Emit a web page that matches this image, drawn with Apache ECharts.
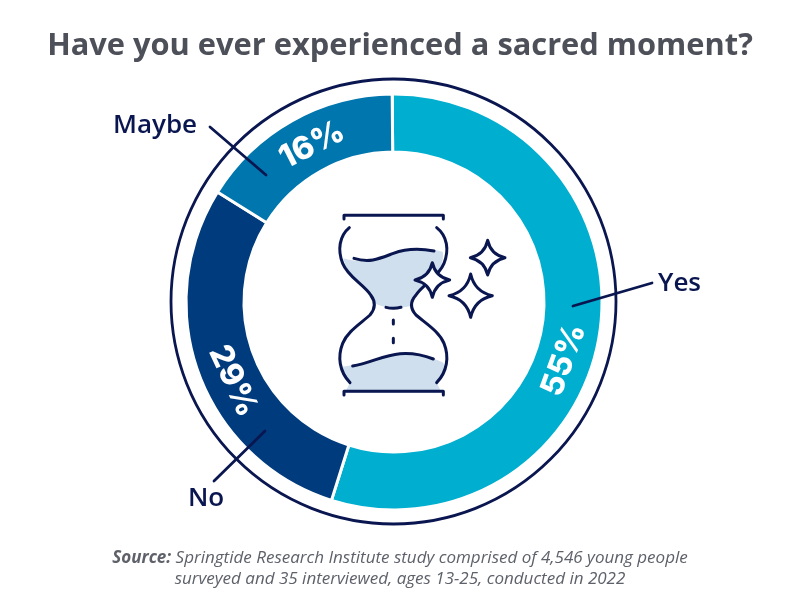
<!DOCTYPE html>
<html><head><meta charset="utf-8">
<style>html,body{margin:0;padding:0;background:#fff}#c{width:800px;height:614px}</style>
<script src="https://cdn.jsdelivr.net/npm/echarts@6/dist/echarts.min.js"></script></head>
<body><div id="c"></div>
<script>
const categories = ['Yes', 'No', 'Maybe'];
const values = [55, 29, 16];
const colors = ['#00AECF', '#003C7D', '#0076AE'];
const titleText = 'Have you ever experienced a sacred moment?';
const sourceLabel = 'Source:';
const sourceLine1 = ' Springtide Research Institute study comprised of 4,546 young people';
const sourceLine2 = 'surveyed and 35 interviewed, ages 13-25, conducted in 2022';

const navy = '#0A1650', cx = 394, cy = 302;
const fontUI = '"Open Sans", Lato, sans-serif';
const labelPlace = [
  {x: 564, y: 360, rotate: 70},
  {x: 233, y: 381, rotate: -65},
  {x: 312, y: 145, rotate: 27}
];
const leaders = [
  {from: [573, 306], to: [652, 283], text: [658, 284]},
  {from: [265, 431], to: [214, 481], text: [206, 499]},
  {from: [266, 175], to: [210, 127], text: [155, 126]}
];
function star(x, y, r) {
  const k = 0.18 * r;
  return `M${x} ${y - r}Q${x + k} ${y - k} ${x + r} ${y}Q${x + k} ${y + k} ${x} ${y + r}Q${x - k} ${y + k} ${x - r} ${y}Q${x - k} ${y - k} ${x} ${y - r}Z`;
}
const iconStroke = {stroke: navy, lineWidth: 9, fill: null, lineCap: 'round', lineJoin: 'round'};
function icon(d, style) {
  return {type: 'path', shape: {pathData: d}, style: Object.assign({}, iconStroke, style || {})};
}
const hourglass = {
  type: 'group', x: 320, y: 200, scaleX: 1 / 3, scaleY: 1 / 3,
  children: [
    icon('M70 175C120 190 170 182 220 160C260 145 320 140 368 155C372 175 365 195 355 215C335 245 300 265 285 290C278 300 274 310 272 318C240 326 200 326 168 312C160 295 150 280 135 265C105 235 78 215 70 175Z', {fill: '#CFDFEE', stroke: null}),
    icon('M68 500C130 495 180 465 240 460C280 458 320 465 370 488C380 515 372 535 350 548L365 578L75 578L90 548C72 530 65 515 68 500Z', {fill: '#CFDFEE', stroke: null}),
    icon('M72 57V46H370V57'),
    icon('M72 585V574H370V585'),
    icon('M88 83C58 108 52 150 68 190C85 232 130 252 152 285C167 305 167 325 150 345C120 372 82 395 68 430C52 470 58 515 90 548'),
    icon('M350 83C382 108 388 150 372 190C355 232 310 252 288 285C270 305 270 325 288 345C320 372 358 395 372 430C388 470 382 515 350 548'),
    icon('M102 175C150 190 180 175 220 160C260 145 300 145 342 153'),
    icon('M98 498C150 490 190 465 240 461C280 458 310 465 340 477'),
    icon('M198 322C210 325 230 325 243 322'),
    icon('M220 360V372M220 415V428'),
    icon(star(337, 240, 52), {fill: '#fff'}),
    icon(star(452, 287, 65)),
    icon(star(503, 173, 52))
  ]
};
const graphics = [
  {type: 'circle', shape: {cx: 393.5, cy: 301.5, r: 222.5}, style: {fill: null, stroke: navy, lineWidth: 2.8}, z: 5},
  {type: 'text', x: 400, y: 46, z: 30, style: {text: titleText, fill: '#4D5059', font: `700 30.8px ${fontUI}`, align: 'center', verticalAlign: 'middle'}},
  {type: 'text', x: 400, y: 569, z: 30, style: {
    text: `{b|${sourceLabel}}{i|${sourceLine1}}\n{i|${sourceLine2}}`,
    align: 'center', verticalAlign: 'middle',
    rich: {
      b: {font: `italic 700 17px ${fontUI}`, fill: '#5E616A', lineHeight: 21},
      i: {font: `italic 400 17px ${fontUI}`, fill: '#5E616A', lineHeight: 21}
    }
  }}
];
leaders.forEach((l, i) => {
  graphics.push({type: 'line', z: 25, shape: {x1: l.from[0], y1: l.from[1], x2: l.to[0], y2: l.to[1]}, style: {stroke: navy, lineWidth: 2.8, lineCap: 'round'}});
  graphics.push({type: 'text', x: l.text[0], y: l.text[1], z: 30, style: {text: categories[i], fill: navy, font: `600 26px ${fontUI}`, align: i === 0 ? 'left' : 'center', verticalAlign: 'middle'}});
});

const chart = echarts.init(document.getElementById('c'), null, {renderer: 'canvas'});
chart.setOption({
  animation: false,
  backgroundColor: '#fff',
  graphic: graphics,
  series: [{
    type: 'pie',
    center: [cx, cy],
    radius: [150, 208],
    startAngle: 90.5,
    clockwise: true,
    silent: true,
    itemStyle: {borderColor: '#fff', borderWidth: 3},
    label: {
      show: true, position: 'inside', color: '#fff',
      fontFamily: '"Inter", sans-serif', fontWeight: 800, fontSize: 32,
      formatter: p => p.value + '%'
    },
    labelLine: {show: false},
    labelLayout: p => {
      const s = labelPlace[p.dataIndex];
      return {x: s.x, y: s.y, rotate: s.rotate, align: 'center', verticalAlign: 'middle'};
    },
    data: categories.map((n, i) => ({name: n, value: values[i], itemStyle: {color: colors[i]}}))
  }, {
    type: 'custom',
    coordinateSystem: 'none',
    silent: true,
    z: 10,
    data: [0],
    renderItem: () => hourglass
  }]
});
</script></body></html>
